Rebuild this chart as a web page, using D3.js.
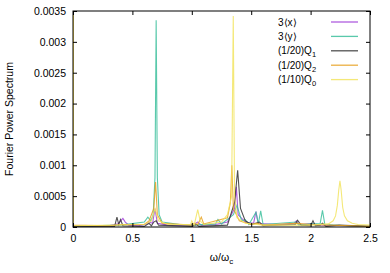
<!DOCTYPE html>
<html lang="en">
<head>
  <meta charset="UTF-8">
  <title>Fourier Power Spectrum</title>
  <script src="https://d3js.org/d3.v7.min.js"></script>
  <style>
    body { margin: 0; background: #fff; }
    text { font-family: "Liberation Sans", Arial, sans-serif; fill: #000; }
  </style>
</head>
<body>
<div id="chart"></div>
<script>
  // axis ticks
  const xTicks = [0, 0.5, 1, 1.5, 2, 2.5];
  const yTicks = [0, 0.0005, 0.001, 0.0015, 0.002, 0.0025, 0.003, 0.0035];

  // spectra: [omega/omega_c, power]
  const specX = [[0,0.00001],[0.3,0.00002],[0.38,0.00005],[0.41,0.00012],[0.42,0.00014],[0.44,0.00008],[0.47,0.00003],[0.55,0.00002],[0.62,0.00005],[0.64,0.00008],[0.67,0.00006],[0.69,0.0003],[0.71,0.00006],[0.8,0.00003],[1.0,0.00003],[1.05,0.00008],[1.08,0.00003],[1.2,0.00004],[1.3,0.00008],[1.36,0.0003],[1.375,0.00065],[1.39,0.0002],[1.45,0.00008],[1.52,0.00006],[1.54,0.00025],[1.56,0.00005],[1.6,0.00005],[1.75,0.00004],[1.86,0.00006],[1.88,0.0001],[1.9,0.00004],[2.0,0.00005],[2.1,0.00003],[2.3,0.00002],[2.5,0.00001]];
  const specY = [[0,0.00001],[0.4,0.00003],[0.6,0.00008],[0.63,0.00016],[0.655,0.0001],[0.675,0.0002],[0.69,0.0008],[0.7,0.00335],[0.71,0.0008],[0.725,0.0002],[0.75,0.00008],[0.9,0.00004],[1.0,0.00003],[1.2,0.00005],[1.22,0.00012],[1.25,0.00005],[1.35,0.0002],[1.38,0.00035],[1.42,0.0001],[1.45,0.00012],[1.48,0.00004],[1.54,0.00024],[1.56,0.00005],[1.58,0.00026],[1.6,0.00004],[1.88,0.00008],[1.9,0.00003],[2.0,0.00005],[2.08,0.00005],[2.1,0.00027],[2.12,0.00004],[2.3,0.00002],[2.5,0.00001]];
  const specQ1 = [[0,0.00001],[0.35,0.00001],[0.37,0.00016],[0.385,0.00004],[0.4,0.00012],[0.42,0.00002],[0.6,0.00001],[0.64,0.00006],[0.66,0.00002],[0.68,0.00008],[0.7,0.0001],[0.72,0.00003],[1.0,0.00001],[1.04,0.00004],[1.06,0.00001],[1.3,0.00003],[1.36,0.0004],[1.386,0.00092],[1.41,0.0003],[1.45,0.0001],[1.5,0.00004],[1.57,0.00008],[1.6,0.00002],[1.87,0.00004],[1.89,0.00011],[1.92,0.00003],[2.0,0.00002],[2.02,0.0001],[2.04,0.00002],[2.08,0.00003],[2.1,0.00006],[2.13,0.00001],[2.24,0.00003],[2.5,0.00001]];
  const specQ2 = [[0,0.01],[0.004,0.00003],[0.3,0.00002],[0.42,0.00004],[0.6,0.00004],[0.64,0.0001],[0.68,0.0003],[0.695,0.00073],[0.71,0.0002],[0.75,0.00006],[1.0,0.00003],[1.02,0.00006],[1.05,0.00004],[1.08,0.00016],[1.1,0.00005],[1.3,0.00015],[1.325,0.0004],[1.337,0.001],[1.35,0.0003],[1.4,0.0001],[1.5,0.00004],[1.55,0.00006],[1.6,0.00003],[1.88,0.00006],[2.0,0.00004],[2.5,0.00001]];
  const specQ0 = [[0,0.01],[0.004,0.00002],[0.6,0.00004],[0.66,0.0001],[0.69,0.0003],[0.72,0.0001],[0.8,0.00004],[0.99,0.00004],[1.0,0.0001],[1.02,0.00003],[1.05,0.00028],[1.07,0.0001],[1.1,0.00004],[1.25,0.00008],[1.3,0.0002],[1.335,0.0005],[1.349,0.00342],[1.36,0.0005],[1.38,0.00015],[1.45,0.00006],[1.6,0.00003],[2.0,0.00003],[2.15,0.00005],[2.19,0.0001],[2.21,0.00018],[2.225,0.00035],[2.237,0.0006],[2.247,0.00075],[2.257,0.0006],[2.27,0.00032],[2.285,0.00018],[2.31,0.0001],[2.35,0.00006],[2.4,0.00004],[2.5,0.00003]];

  const seriesNames = ["3⟨x⟩", "3⟨y⟩", "(1/20)Q1", "(1/20)Q2", "(1/10)Q0"];
  const seriesColors = ["#a040d8", "#3cbf9c", "#333333", "#e8a020", "#f2e460"];
  const seriesData = [specX, specY, specQ1, specQ2, specQ0];

  const W = 390, H = 273;
  const margin = { top: 11, right: 20, bottom: 46, left: 73 };
  const width = W - margin.left - margin.right;
  const height = H - margin.top - margin.bottom;

  const svg = d3.select("#chart").append("svg")
    .attr("width", W).attr("height", H);

  svg.append("defs").append("clipPath").attr("id", "clip")
    .append("rect").attr("width", width).attr("height", height);

  const g = svg.append("g")
    .attr("transform", `translate(${margin.left},${margin.top})`);

  const x = d3.scaleLinear().domain([0, 2.5]).range([0, width]);
  const y = d3.scaleLinear().domain([0, 0.0035]).range([height, 0]);

  // spectra
  const line = d3.line().x(d => x(d[0])).y(d => y(d[1]));
  const plot = g.append("g").attr("clip-path", "url(#clip)");
  seriesData.forEach((s, i) => {
    plot.append("path")
      .datum(s)
      .attr("fill", "none")
      .attr("stroke", seriesColors[i])
      .attr("stroke-width", 1.1)
      .attr("stroke-opacity", 0.85)
      .attr("d", line);
  });

  // axes, ticks inward and mirrored
  const fmt = d => String(d);
  g.append("g").attr("transform", `translate(0,${height})`)
    .call(d3.axisBottom(x).tickValues(xTicks).tickFormat(fmt).tickSizeInner(-4).tickSizeOuter(0).tickPadding(8));
  g.append("g")
    .call(d3.axisLeft(y).tickValues(yTicks).tickFormat(fmt).tickSizeInner(-4).tickSizeOuter(0).tickPadding(7));
  g.append("g")
    .call(d3.axisTop(x).tickValues(xTicks).tickFormat("").tickSizeInner(-4).tickSizeOuter(0));
  g.append("g").attr("transform", `translate(${width},0)`)
    .call(d3.axisRight(y).tickValues(yTicks).tickFormat("").tickSizeInner(-4).tickSizeOuter(0));
  g.selectAll(".domain").remove();
  g.selectAll(".tick text").style("font-size", "10.5px").style("font-family", "Liberation Sans, Arial, sans-serif");
  g.append("rect").attr("width", width).attr("height", height)
    .attr("fill", "none").attr("stroke", "#000").attr("stroke-width", 1);

  // axis labels
  svg.append("text")
    .attr("transform", `translate(13,${margin.top + height / 2}) rotate(-90)`)
    .attr("text-anchor", "middle")
    .style("font-size", "10.5px")
    .text("Fourier Power Spectrum");

  const xl = svg.append("text")
    .attr("x", margin.left + width / 2)
    .attr("y", 261)
    .attr("text-anchor", "middle")
    .style("font-size", "10.5px");
  xl.append("tspan").text("ω/ω");
  xl.append("tspan").attr("dy", 3).style("font-size", "8px").text("c");

  // legend
  const leg = svg.append("g");
  seriesNames.forEach((n, i) => {
    const ly = 22 + i * 14.4;
    const t = leg.append("text").attr("x", 278).attr("y", ly + 3.5).style("font-size", "10px");
    const m = n.match(/^(.*Q)(\d)$/);
    if (m) {
      t.append("tspan").text(m[1]);
      t.append("tspan").attr("dy", 3).style("font-size", "7.5px").text(m[2]);
    } else {
      t.text(n);
    }
    leg.append("line")
      .attr("x1", 331).attr("x2", 358).attr("y1", ly).attr("y2", ly)
      .attr("stroke", seriesColors[i]).attr("stroke-width", 1.3).attr("stroke-opacity", 0.85);
  });
</script>
</body>
</html>
